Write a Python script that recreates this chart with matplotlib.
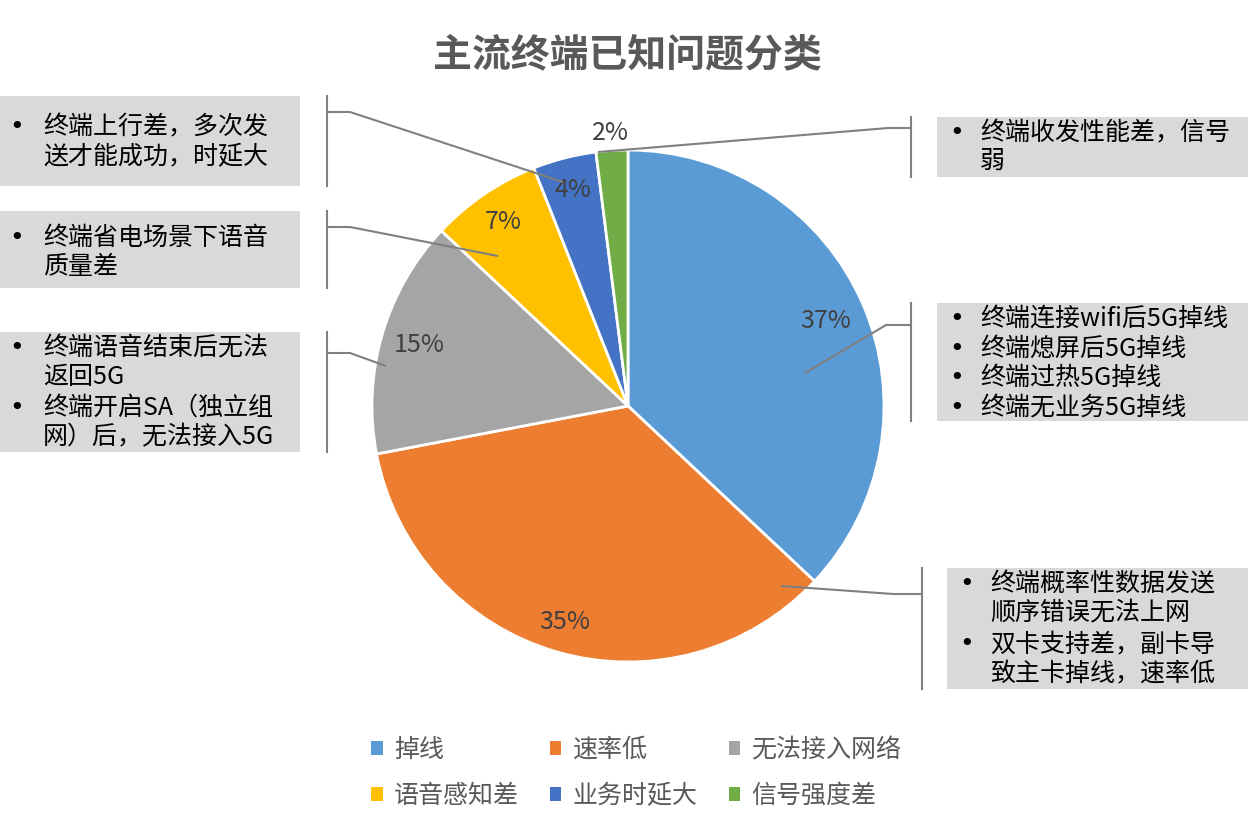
import matplotlib
matplotlib.use('Agg')
import matplotlib.pyplot as plt
from matplotlib.patches import Rectangle
import numpy as np

plt.rcParams['font.family'] = ['Noto Sans CJK SC', 'DejaVu Sans']

# data
categories = ['掉线', '速率低', '无法接入网络', '语音感知差', '业务时延大', '信号强度差']
shares = [37, 35, 15, 7, 4, 2]
colors = ['#5B9BD5', '#ED7D31', '#A5A5A5', '#FFC000', '#4472C4', '#70AD47']
title = '主流终端已知问题分类'

# callout texts, one list of lines per bullet
notes_delay = [['终端上行差，多次发', '送才能成功，时延大']]
notes_voice = [['终端省电场景下语音', '质量差']]
notes_access = [['终端语音结束后无法', '返回5G'], ['终端开启SA（独立组', '网）后，无法接入5G']]
notes_signal = [['终端收发性能差，信号', '弱']]
notes_drop = [['终端连接wifi后5G掉线'], ['终端熄屏后5G掉线'], ['终端过热5G掉线'], ['终端无业务5G掉线']]
notes_rate = [['终端概率性数据发送', '顺序错误无法上网'], ['双卡支持差，副卡导', '致主卡掉线，速率低']]

W, H = 1248, 826
fig = plt.figure(figsize=(W / 100, H / 100), dpi=100)
ax = fig.add_axes([0, 0, 1, 1])

cx, cy, R = 628, 406, 256
# y axis is inverted below, so -90 / counterclock draws clockwise from the top
wedges, _, pcts = ax.pie(shares, colors=colors, startangle=-90, counterclock=True,
                         center=(cx, cy), radius=R, autopct=lambda p: f'{p:.0f}%',
                         wedgeprops=dict(edgecolor='white', linewidth=2),
                         textprops=dict(fontsize=18, color='#404040'))
ax.set_xlim(0, W)
ax.set_ylim(H, 0)
ax.set_aspect('equal')
ax.axis('off')

# move percent labels like the original layout
label_r = [0.84, 0.88, 0.85, 0.87, 0.87, 1.07]
for w, t, r in zip(wedges, pcts, label_r):
    a = np.deg2rad((w.theta1 + w.theta2) / 2)
    t.set_position((cx + r * R * np.cos(a), cy + r * R * np.sin(a)))
    t.set_ha('center')
    t.set_va('center')

fig.text(0.503, 1 - 55 / H, title, ha='center', va='center', fontsize=28,
         fontweight='bold', color='#595959')


def callout(box, notes, bullet_x, text_x, line_ys, bar_x, path):
    x0, y0, x1, y1 = box
    ax.add_patch(Rectangle((x0, y0), x1 - x0, y1 - y0, facecolor='#D9D9D9',
                           edgecolor='none', zorder=1))
    ax.plot([bar_x, bar_x], [y0, y1], color='#808080', lw=1.5, zorder=2)
    px, py = zip(*path)
    ax.plot(px, py, color='#808080', lw=1.5, zorder=5, solid_capstyle='butt')
    i = 0
    for item in notes:
        ax.text(bullet_x, line_ys[i], '•', fontsize=18, ha='center', va='center',
                color='black', zorder=3, family='DejaVu Sans')
        for line in item:
            ax.text(text_x, line_ys[i], line, fontsize=18, ha='left', va='center',
                    color='black', zorder=3)
            i += 1


callout((0, 96, 300, 186), notes_delay, 17, 43, [127, 157], 327,
        [(327, 112), (350, 112), (563, 182)])
callout((0, 211, 300, 288), notes_voice, 17, 43, [238, 267], 327,
        [(327, 227), (350, 227), (498, 256)])
callout((0, 332, 300, 452), notes_access, 17, 43, [348, 377, 408, 437], 327,
        [(327, 353), (350, 353), (386, 366)])
callout((937, 117, 1248, 177), notes_signal, 957, 980, [133, 161], 911,
        [(911, 128), (888, 128), (598, 152)])
callout((937, 303, 1248, 421), notes_drop, 957, 980, [319, 349, 378, 408], 911,
        [(911, 325), (886, 325), (805, 373)])
callout((947, 568, 1248, 689), notes_rate, 967, 990, [584, 613, 644, 674], 922,
        [(922, 594), (893, 594), (781, 586)])

# legend, row-major order
order = [0, 3, 1, 4, 2, 5]
leg = fig.legend([wedges[i] for i in order], [categories[i] for i in order],
                 loc='center', bbox_to_anchor=(0.51, 1 - 773 / H), ncol=3,
                 frameon=False, fontsize=18, handlelength=0.45, handleheight=0.45,
                 handletextpad=0.45, columnspacing=1.25, labelspacing=0.8)
for t in leg.get_texts():
    t.set_color('#595959')
for h in leg.legend_handles:
    h.set_edgecolor('none')

fig.savefig('out.png', dpi=100)
